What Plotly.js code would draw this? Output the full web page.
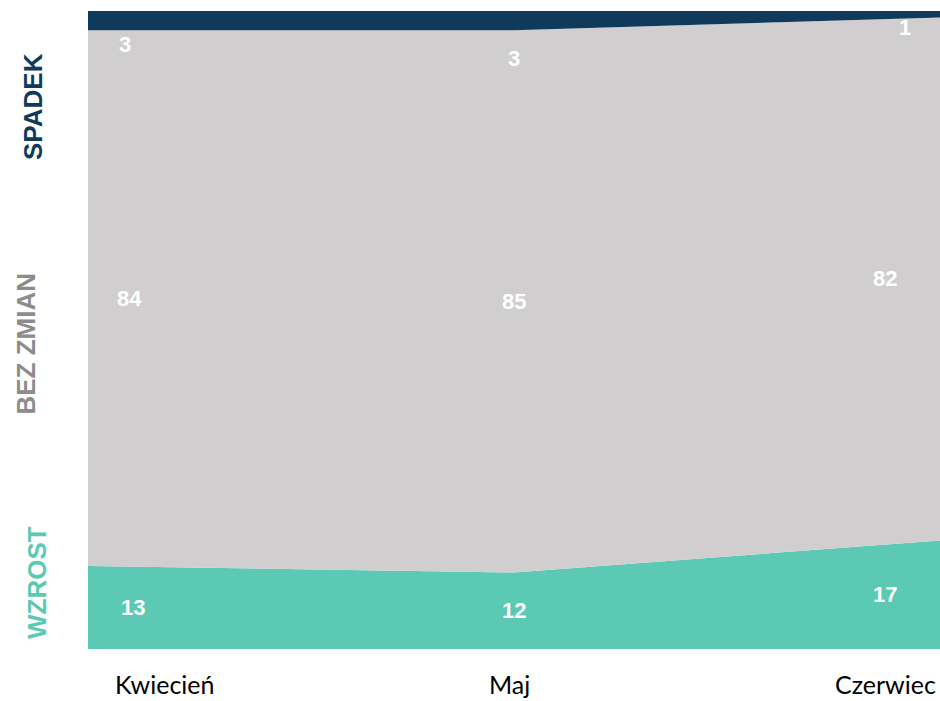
<!DOCTYPE html>
<html>
<head>
<meta charset="utf-8">
<script src="https://cdn.plot.ly/plotly-3.0.1.min.js"></script>
<style>
  html, body { margin: 0; padding: 0; background: #ffffff; }
  #chart { width: 940px; height: 701px; }
</style>
</head>
<body>
<div id="chart"></div>
<script>
// Months on the horizontal axis
const months = ['Kwiecień', 'Maj', 'Czerwiec'];

// Share of answers per month (%)
const wzrost = [13, 12, 17];
const bezZmian = [84, 85, 82];
const spadek = [3, 3, 1];

// Category names shown on the left side
const seriesNames = ['WZROST', 'BEZ ZMIAN', 'SPADEK'];

const colTeal = '#5bc9b3';
const colGray = '#d0cecf';
const colNavy = '#0f3a5c';
const colGrayText = '#8c8c8c';

const xIdx = months.map((_, i) => i);

function area(name, values, color) {
  return {
    type: 'scatter',
    mode: 'lines',
    name: name,
    x: xIdx,
    y: values,
    stackgroup: 'one',
    line: { width: 0, color: color },
    fillcolor: color,
    hoverinfo: 'skip'
  };
}

const traces = [
  area(seriesNames[0], wzrost, colTeal),
  area(seriesNames[1], bezZmian, colGray),
  area(seriesNames[2], spadek, colNavy)
];

const annotations = [];
const labelFont = { family: 'Liberation Sans, Arial, sans-serif', size: 22, color: '#ffffff', weight: 'bold' };

// horizontal nudges so edge labels sit inside the plot
const edgeShift = [[45, 41, 37], [0, 0, 0], [-55, -55, -35]];
// extra vertical offset for the thin top band labels
const topShift = [-24, -38, -13];

xIdx.forEach((i) => {
  const w = wzrost[i], b = bezZmian[i], s = spadek[i];
  annotations.push({ x: i, y: w / 2, xref: 'x', yref: 'y', text: String(w), showarrow: false,
    font: labelFont, xshift: edgeShift[i][0] });
  annotations.push({ x: i, y: w + b / 2, xref: 'x', yref: 'y', text: String(b), showarrow: false,
    font: labelFont, xshift: edgeShift[i][1] });
  annotations.push({ x: i, y: w + b + s / 2, xref: 'x', yref: 'y', text: String(s), showarrow: false,
    font: labelFont, xshift: edgeShift[i][2], yshift: topShift[i] });
});

// month labels under the plot
const monthShift = [77, -5, -55];
months.forEach((m, i) => {
  annotations.push({ x: i, y: 0, xref: 'x', yref: 'paper', text: m, showarrow: false,
    yanchor: 'middle', yshift: -35, xshift: monthShift[i], borderpad: 0,
    font: { family: 'Lato, sans-serif', size: 25, color: '#000000' } });
});

// rotated series names on the left
const sideFont = (c) => ({ family: 'Liberation Sans, Arial, sans-serif', size: 26, color: c, weight: 'bold' });
annotations.push({ x: 0, y: 0.8495, xref: 'paper', yref: 'paper', text: seriesNames[2], textangle: -90,
  showarrow: false, xanchor: 'center', yanchor: 'middle', xshift: -55, font: sideFont(colNavy) });
annotations.push({ x: 0, y: 0.478, xref: 'paper', yref: 'paper', text: seriesNames[1], textangle: -90,
  showarrow: false, xanchor: 'center', yanchor: 'middle', xshift: -61.5, font: sideFont(colGrayText) });
annotations.push({ x: 0, y: 0.1034, xref: 'paper', yref: 'paper', text: seriesNames[0], textangle: -90,
  showarrow: false, xanchor: 'center', yanchor: 'middle', xshift: -51, font: sideFont(colTeal) });

const layout = {
  width: 940,
  height: 701,
  margin: { l: 88, r: 0, t: 11, b: 52, pad: 0 },
  paper_bgcolor: '#ffffff',
  plot_bgcolor: '#ffffff',
  showlegend: false,
  xaxis: { range: [0, 2], showgrid: false, zeroline: false, showticklabels: false, ticks: '', showline: false },
  yaxis: { range: [0, 100], showgrid: false, zeroline: false, showticklabels: false, ticks: '', showline: false },
  annotations: annotations
};

Plotly.newPlot('chart', traces, layout, { displayModeBar: false, staticPlot: true });
</script>
</body>
</html>
